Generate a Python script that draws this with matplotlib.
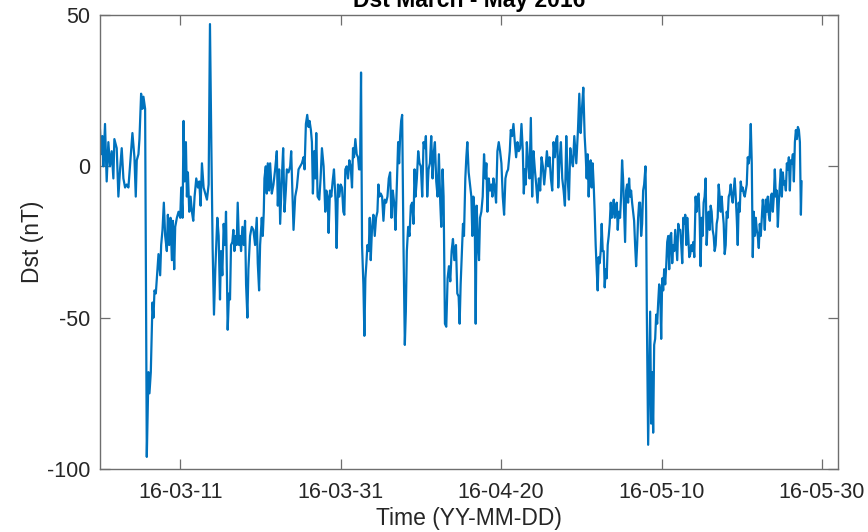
import datetime as dt
import matplotlib
matplotlib.use("Agg")
import matplotlib.pyplot as plt
import matplotlib.dates as mdates

# Hourly Dst index, March - May 2016 (hours counted from 2016-03-01 00:00 UT)
hours = [
    0, 3, 7, 10, 15, 20, 25, 30, 35, 40, 43, 50, 55, 60, 65, 70, 75, 80, 85, 93,
    97, 103, 107, 110, 115, 118, 123, 127, 130, 135, 140, 145, 148, 152, 157, 160, 163, 167, 170, 175,
    180, 183, 187, 191, 195, 200, 203, 207, 211, 215, 218, 222, 225, 230, 235, 240, 243, 247, 250, 253,
    257, 260, 263, 267, 271, 275, 279, 283, 288, 293, 297, 301, 305, 310, 315, 320, 325, 329, 333, 337,
    341, 345, 351, 355, 359, 362, 366, 370, 374, 377, 380, 382, 386, 389, 392, 396, 399, 402, 406, 409,
    412, 416, 419, 422, 426, 430, 434, 437, 441, 444, 449, 454, 459, 464, 469, 472, 476, 479, 484, 487,
    490, 492, 496, 499, 502, 506, 509, 514, 519, 524, 529, 532, 536, 539, 544, 548, 552, 556, 559, 564,
    569, 572, 576, 579, 584, 589, 594, 599, 604, 609, 612, 616, 620, 624, 627, 631, 634, 637, 641, 644,
    647, 651, 656, 660, 664, 669, 674, 677, 681, 684, 688, 692, 696, 700, 705, 708, 712, 716, 720, 724,
    728, 731, 734, 738, 742, 746, 750, 754, 757, 760, 764, 768, 772, 775, 778, 781, 784, 788, 791, 794,
    797, 800, 804, 807, 810, 814, 818, 822, 826, 830, 833, 836, 840, 844, 848, 852, 856, 860, 864, 868,
    872, 876, 880, 884, 888, 892, 895, 898, 901, 904, 908, 912, 915, 918, 922, 926, 930, 934, 938, 941,
    944, 948, 952, 956, 960, 964, 968, 972, 975, 979, 983, 987, 991, 995, 999, 1002, 1006, 1010, 1014, 1018,
    1021, 1025, 1028, 1032, 1036, 1040, 1044, 1048, 1052, 1056, 1060, 1065, 1069, 1073, 1076, 1079, 1083, 1086, 1089, 1093,
    1096, 1099, 1103, 1107, 1111, 1114, 1117, 1121, 1124, 1127, 1131, 1134, 1137, 1141, 1145, 1149, 1153, 1156, 1159, 1163,
    1167, 1171, 1174, 1177, 1181, 1185, 1189, 1193, 1197, 1201, 1205, 1209, 1213, 1217, 1221, 1226, 1229, 1233, 1237, 1241,
    1245, 1249, 1253, 1257, 1261, 1265, 1268, 1271, 1274, 1277, 1281, 1285, 1289, 1293, 1297, 1301, 1305, 1309, 1313, 1317,
    1321, 1325, 1329, 1333, 1337, 1341, 1345, 1349, 1353, 1357, 1361, 1365, 1368, 1371, 1375, 1379, 1383, 1387, 1391, 1395,
    1399, 1403, 1407, 1411, 1415, 1419, 1425, 1430, 1434, 1438, 1442, 1446, 1450, 1453, 1456, 1459, 1462, 1465, 1468, 1471,
    1474, 1477, 1480, 1483, 1486, 1489, 1492, 1495, 1498, 1501, 1504, 1507, 1510, 1513, 1516, 1519, 1522, 1525, 1528, 1531,
    1534, 1537, 1540, 1543, 1546, 1549, 1552, 1556, 1559, 1562, 1565, 1568, 1571, 1574, 1577, 1580, 1583, 1586, 1589, 1592,
    1595, 1598, 1601, 1604, 1607, 1610, 1613, 1616, 1619, 1622, 1625, 1628, 1632, 1634, 1636, 1638, 1640, 1643, 1646, 1649,
    1652, 1655, 1658, 1661, 1664, 1667, 1670, 1673, 1676, 1679, 1682, 1685, 1688, 1691, 1694, 1697, 1700, 1703, 1706, 1709,
    1712, 1715, 1718, 1721, 1724, 1727, 1730, 1733, 1736, 1739, 1742, 1745, 1748, 1751, 1754, 1757, 1760, 1763, 1766, 1769,
    1772, 1775, 1778, 1782, 1785, 1788, 1791, 1794, 1797, 1800, 1803, 1806, 1809, 1812, 1815, 1818, 1821, 1824, 1827, 1830,
    1833, 1836, 1839, 1842, 1845, 1848, 1851, 1854, 1857, 1860, 1863, 1866, 1869, 1872, 1875, 1878, 1881, 1884, 1887, 1890,
    1893, 1896, 1899, 1902, 1905, 1908, 1911, 1914, 1917, 1920, 1923, 1926, 1929, 1932, 1935, 1938, 1941, 1944, 1947, 1950,
    1953, 1956, 1959, 1962, 1965, 1968, 1971, 1974, 1977, 1980, 1983, 1986, 1989, 1992, 1995, 1998, 2001, 2004, 2007, 2010,
    2013, 2016, 2019, 2022, 2025, 2028, 2031, 2034, 2037, 2040, 2043, 2046, 2049, 2052, 2055, 2058, 2061, 2064, 2067, 2070,
    2073, 2076, 2079, 2082, 2085, 2088, 2091, 2094, 2097, 2099,
]

dst = [
    12, 4, 10, 0, 14, -5, 8, 0, 5, -4, 9, 6, -10, -1, 6, -4, -7, -6, -7, 5,
    11, 3, -10, 2, 4, 9, 24, 19, 23, 19, -96, -68, -75, -68, -45, -50, -41, -42, -37, -29,
    -36, -26, -21, -12, -23, -28, -16, -26, -17, -31, -18, -34, -20, -17, -15, -17, -7, -17, 15, -5,
    8, -10, -2, -15, -10, -15, -18, -10, -4, -7, -5, -13, 1, -7, -9, -11, -6, 47, 8, -27,
    -49, -34, -17, -23, -44, -28, -36, -19, -26, -15, -37, -54, -42, -44, -26, -25, -21, -28, -23, -26,
    -12, -26, -23, -28, -20, -26, -18, -39, -50, -34, -23, -20, -21, -26, -17, -32, -41, -26, -17, -23,
    -15, -4, 0, -9, 1, -8, 1, -9, -6, -1, 5, -13, -1, -19, -4, 6, -15, -8, -1, -2,
    0, 5, -10, -21, -10, -7, -1, 0, 1, 3, -1, 14, 17, 13, 15, 12, 8, -9, 5, -4,
    11, -10, -11, -4, 6, 0, -15, -8, -10, -22, -8, -10, -5, -1, -12, -27, -6, -10, -6, -7,
    -15, -16, -1, 0, -4, 2, 0, -7, 6, 3, 9, 4, 3, -1, -1, 31, -26, -39, -56, -37,
    -32, -26, -28, -17, -31, -20, -16, -23, -17, -15, -6, -10, -9, -10, -18, -11, -12, -10, -4, -2,
    -17, -8, -12, -21, -6, 8, 1, 10, 15, 17, -26, -59, -48, -28, -20, -23, -13, -12, -19, -1,
    -10, -4, 5, 1, 0, -10, 8, 6, 10, -10, -1, 1, 10, -4, 5, 8, -5, -10, 4, -12,
    -20, -1, -10, -52, -53, -37, -33, -38, -28, -24, -31, -26, -42, -43, -52, -39, -28, -19, -23, -4,
    3, 8, -2, -6, -10, -23, -10, -15, -52, -13, -26, -31, -17, -15, -10, 4, -4, 1, -15, -4,
    -8, -6, -10, -4, -7, -12, 5, 8, 5, 1, -10, -16, -4, -2, -1, 5, 12, 10, 14, 8,
    3, 8, 5, 6, 14, 5, -9, -1, -6, 8, 1, -4, 16, -10, 5, -1, -6, -12, -4, -8,
    3, 0, -6, -1, 5, 0, 3, -4, -8, 8, 3, 9, 10, -7, 2, 8, -4, -8, -13, 10,
    -4, -11, 6, 2, 0, 10, 1, 12, 24, 11, 19, 26, 10, 4, -4, 4, -10, -1, 2, -7,
    1, -6, -15, -26, -34, -41, -30, -32, -28, -19, -28, -28, -40, -34, -37, -26, -23, -19, -12, -17,
    -15, -11, -17, -15, -12, -21, -15, -17, -10, 2, -4, -15, -25, -8, -6, -12, -4, -10, -8, -12,
    -15, -18, -26, -33, -26, -17, -12, -12, -23, -19, -8, -6, 0, -15, -48, -70, -92, -70, -48, -85,
    -68, -88, -59, -57, -49, -52, -45, -39, -41, -57, -37, -41, -34, -39, -33, -25, -23, -34, -23, -22,
    -32, -26, -28, -21, -26, -31, -19, -21, -21, -26, -32, -17, -19, -16, -26, -17, -23, -30, -29, -26,
    -28, -25, -30, -10, -15, -10, -9, -17, -33, -17, -23, -12, -10, -4, -26, -19, -15, -21, -13, -15,
    -21, -23, -28, -26, -19, -17, -6, -10, -15, -10, -15, -19, -29, -26, -15, -17, -10, -9, -6, -10,
    -12, -8, -4, -10, -17, -26, -12, -15, -5, -8, -7, -9, -10, -8, -6, 3, 1, 4, 14, 1,
    -30, -15, -23, -17, -21, -23, -27, -19, -23, -17, -11, -15, -21, -11, -15, -10, -16, -18, -10, -9,
    -15, -10, -1, -10, -8, -20, -12, -6, -1, -10, -2, -6, -5, -8, 1, -1, 3, -8, 2, 1,
    4, -5, 8, 12, 9, 13, 12, 8, -16, -5,
]

start = dt.datetime(2016, 3, 1)
times = [start + dt.timedelta(hours=h) for h in hours]

tick_dates = [dt.datetime(2016, 3, 11), dt.datetime(2016, 3, 31), dt.datetime(2016, 4, 20),
              dt.datetime(2016, 5, 10), dt.datetime(2016, 5, 30)]
y_ticks = [-100, -50, 0, 50]

plt.rcParams['font.family'] = ['Liberation Sans', 'DejaVu Sans']
plt.rcParams['axes.unicode_minus'] = False
axis_gray = '#262626'
frame_gray = '#6e6e6e'

fig = plt.figure(figsize=(8.68, 5.32), dpi=100)
ax = fig.add_axes([100 / 868, 1 - 469 / 532, 738 / 868, 454 / 532])

ax.plot(times, dst, color='#0072BD', lw=1.6, solid_joinstyle='round')

ax.set_xlim(dt.datetime(2016, 3, 1), dt.datetime(2016, 6, 1))
ax.set_ylim(-100, 50)
ax.set_xticks(tick_dates)
ax.xaxis.set_major_formatter(mdates.DateFormatter('%y-%m-%d'))
ax.set_yticks(y_ticks)

ax.tick_params(direction='in', length=7, width=0.9, color=frame_gray,
               labelcolor=axis_gray, labelsize=15.5, top=True, right=True, pad=7)
ax.tick_params(axis='x', pad=9)
for sp in ax.spines.values():
    sp.set_color(frame_gray)
    sp.set_linewidth(1.0)

ax.set_xlabel('Time (YY-MM-DD)', fontsize=16.5, color=axis_gray, labelpad=3)
ax.set_ylabel('Dst (nT)', fontsize=16.5, color=axis_gray, labelpad=2)

fig.text(469 / 868, 1 - 7 / 532, 'Dst March - May 2016', ha='center', va='baseline',
         fontsize=16.5, fontweight='bold', color='#000000')

fig.savefig('out.png', dpi=100)
